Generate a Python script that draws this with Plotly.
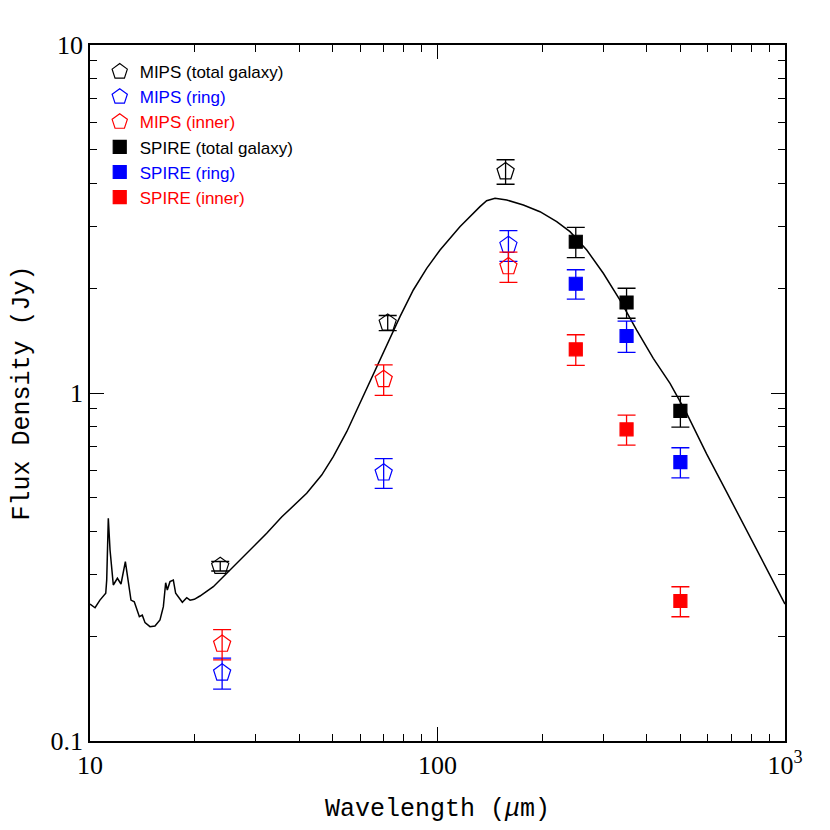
import plotly.graph_objects as go

# model SED curve
model_wl = [10.0, 10.34, 10.68, 11.10, 11.17, 11.29, 11.42, 11.67, 11.99, 12.28,
            12.64, 12.84, 13.12, 13.41, 13.56, 13.87, 14.14, 14.40, 14.88, 15.38,
            15.90, 16.26, 16.51, 16.69, 16.99, 17.37, 17.64, 17.95, 18.44, 18.98,
            19.41, 19.96, 20.72, 22.64, 24.74, 27.02, 29.51, 32.25, 35.6, 42.03,
            46.42, 50.13, 54.8, 59.84, 65.36, 71.42, 78.0, 85.2, 93.1, 101.7,
            116.0, 132.5, 138.5, 146.4, 158.2, 176.6, 197.2, 220.3, 240.6, 268.8,
            300.0, 335.1, 374.3, 417.8, 466.8, 521.3, 595.3, 679.5, 810.5, 1000.0]
model_flux = [0.2475, 0.2415, 0.254, 0.2657, 0.290, 0.4365, 0.354, 0.2807, 0.2935, 0.2826,
              0.3275, 0.2965, 0.254, 0.2513, 0.2443, 0.2276, 0.230, 0.2188, 0.2131, 0.2141,
              0.2227, 0.2432, 0.285, 0.2716, 0.287, 0.290, 0.2657, 0.260, 0.2504, 0.258,
              0.254, 0.2554, 0.261, 0.2776, 0.3033, 0.3312, 0.3618, 0.3952, 0.44, 0.515,
              0.581, 0.656, 0.774, 0.934, 1.139, 1.374, 1.657, 1.977, 2.282, 2.576,
              3.005, 3.431, 3.569, 3.627, 3.586, 3.469, 3.319, 3.106, 2.908, 2.576,
              2.208, 1.850, 1.517, 1.258, 1.066, 0.874, 0.667, 0.519, 0.3713, 0.2475]

# MIPS photometry
mips_wl_total = [23.7, 71.9, 157]
mips_wl = [24, 70, 160]
mips_total = [0.318, 1.59, 4.33]
mips_total_err = [0.01, 0.08, 0.35]
mips_ring = [0.157, 0.590, 2.66]
mips_ring_err = [0.016, 0.058, 0.27]
mips_inner = [0.190, 1.095, 2.31]
mips_inner_err = [0.019, 0.11, 0.23]

# SPIRE photometry
spire_wl = [250, 350, 500]
spire_total = [2.72, 1.82, 0.888]
spire_total_err = [0.27, 0.18, 0.09]
spire_ring = [2.06, 1.458, 0.633]
spire_ring_err = [0.2, 0.15, 0.063]
spire_inner = [1.335, 0.786, 0.2525]
spire_inner_err = [0.135, 0.078, 0.025]

fig = go.Figure()

fig.add_trace(go.Scatter(x=model_wl, y=model_flux, mode="lines",
                         line=dict(color="black", width=1.5), showlegend=False))


def add_points(x, y, err, colour, symbol, size, label):
    fig.add_trace(go.Scatter(
        x=x, y=y, mode="markers",
        name="<span style='color:%s'>%s</span>" % (colour, label),
        marker=dict(symbol=symbol, size=size, color=colour,
                    line=dict(color=colour, width=1.2)),
        error_y=dict(type="data", array=err, color=colour, thickness=1.3, width=9),
    ))


add_points(mips_wl_total, mips_total, mips_total_err, "black", "pentagon-open", 18, "MIPS (total galaxy)")
add_points(mips_wl, mips_ring, mips_ring_err, "blue", "pentagon-open", 18, "MIPS (ring)")
add_points(mips_wl, mips_inner, mips_inner_err, "red", "pentagon-open", 18, "MIPS (inner)")
add_points(spire_wl, spire_total, spire_total_err, "black", "square", 13, "SPIRE (total galaxy)")
add_points(spire_wl, spire_ring, spire_ring_err, "blue", "square", 13, "SPIRE (ring)")
add_points(spire_wl, spire_inner, spire_inner_err, "red", "square", 13, "SPIRE (inner)")

x_minor = [20, 30, 40, 50, 60, 70, 80, 90, 200, 300, 400, 500, 600, 700, 800, 900]
y_minor = [0.2, 0.3, 0.4, 0.5, 0.6, 0.7, 0.8, 0.9, 2, 3, 4, 5, 6, 7, 8, 9]

tick_font = dict(family="Liberation Serif", size=26, color="black")
title_font = dict(family="Liberation Mono", size=25, color="black")

fig.update_xaxes(
    type="log", range=[1, 3], automargin=False,
    tickmode="array", tickvals=[10, 100, 1000], ticktext=["10", "100", "10<sup>3</sup>"],
    ticks="inside", ticklen=14, tickwidth=1, tickcolor="black",
    minor=dict(tickmode="array", tickvals=x_minor, ticks="inside", ticklen=7, tickcolor="black"),
    showline=True, linecolor="black", linewidth=1.5, mirror="ticks",
    showgrid=False, zeroline=False,
    tickfont=tick_font,
    title=dict(text="Wavelength (<i>μ</i>m)", font=title_font, standoff=20),
)
fig.update_yaxes(
    type="log", range=[-1, 1], automargin=False,
    tickmode="array", tickvals=[0.1, 1, 10], ticktext=["0.1", "1", "10"],
    ticks="inside", ticklen=14, tickwidth=1, tickcolor="black",
    minor=dict(tickmode="array", tickvals=y_minor, ticks="inside", ticklen=7, tickcolor="black"),
    showline=True, linecolor="black", linewidth=1.5, mirror="ticks",
    showgrid=False, zeroline=False,
    tickfont=tick_font,
    title=dict(text="Flux Density (Jy)", font=title_font, standoff=17),
)

fig.update_layout(
    width=830, height=830,
    margin=dict(l=82, r=53, t=37, b=97),
    plot_bgcolor="white", paper_bgcolor="white",
    legend=dict(x=0.014, y=0.987, xanchor="left", yanchor="top",
                bgcolor="rgba(0,0,0,0)", tracegroupgap=0,
                font=dict(family="Liberation Sans", size=17, color="black")),
)

fig.write_html("out.html")
